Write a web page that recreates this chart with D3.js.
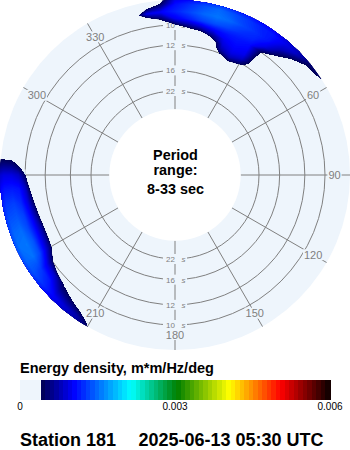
<!DOCTYPE html>
<html>
<head>
<meta charset="utf-8">
<script src="https://cdn.jsdelivr.net/npm/d3@7/dist/d3.min.js"></script>
<style>
  html, body { margin: 0; padding: 0; background: #ffffff; }
  svg { display: block; }
  text { font-family: "Liberation Sans", Arial, sans-serif; }
</style>
</head>
<body>
<svg id="chart" width="350" height="450"></svg>
<script>
// Directional wave energy spectrum for one buoy station.
// Grid values are energy density in units of 1e-5 m*m/Hz/deg,
// one row per wave period, one column per direction (deg, clockwise from north).
const ENERGY_UNIT = 1e-5;

const directions = [
    0,   5,  10,  15,  20,  25,  30,  35,  40,  45,  50,  55,
   60,  65,  70,  75,  80,  85,  90,  95, 100, 105, 110, 115,
  120, 125, 130, 135, 140, 145, 150, 155, 160, 165, 170, 175,
  180, 185, 190, 195, 200, 205, 210, 215, 220, 225, 230, 235,
  240, 245, 250, 255, 260, 265, 270, 275, 280, 285, 290, 295,
  300, 305, 310, 315, 320, 325, 330, 335, 340, 345, 350, 355
];

const periods = [8, 8.5, 9, 9.5, 10, 10.5, 11, 11.5, 12, 13, 14];

const energy = [
  // 8 s
  [ 80, 90,100,105,100, 95, 90, 85, 80, 75, 68, 60,
    42,  0,  0,  0,  0,  0,  0,  0,  0,  0,  0,  0,
     0,  0,  0,  0,  0,  0,  0,  0,  0,  0,  0,  0,
     0,  0,  0,  0,  0,  0, 55, 70, 80, 90,100,110,
   115,120,115,110,100, 90, 75, 42,  0,  0,  0,  0,
     0,  0,  0,  0,  0,  0,  0,  0,  0,  0,  0,  0 ],
  // 8.5 s
  [105,120,135,145,135,125,115,110, 95, 80, 41, 36,
    20,  0,  0,  0,  0,  0,  0,  0,  0,  0,  0,  0,
     0,  0,  0,  0,  0,  0,  0,  0,  0,  0,  0,  0,
     0,  0,  0,  0,  0,  0, 30, 70, 85,100,120,135,
   145,150,145,135,125,110, 90, 42,  0,  0,  0,  0,
     0,  0,  0,  0,  0,  0,  0,  0,  0,  0,  0, 45 ],
  // 9 s
  [115,130,145,152,145,130,120,108, 75, 38, 28, 18,
     8,  0,  0,  0,  0,  0,  0,  0,  0,  0,  0,  0,
     0,  0,  0,  0,  0,  0,  0,  0,  0,  0,  0,  0,
     0,  0,  0,  0,  0,  0, 10, 25, 50, 68,110,125,
   150,152,148,138,128,112, 90, 41,  0,  0,  0,  0,
     0,  0,  0,  0,  0,  0,  0,  0,  0,  0, 93,100 ],
  // 9.5 s
  [ 95,112,128,135,130,120,115, 92, 42, 26, 18,  8,
     0,  0,  0,  0,  0,  0,  0,  0,  0,  0,  0,  0,
     0,  0,  0,  0,  0,  0,  0,  0,  0,  0,  0,  0,
     0,  0,  0,  0,  0,  0,  0,  5, 15, 38, 80, 95,
   132,138,132,128,118,108, 80, 20,  0,  0,  0,  0,
     0,  0,  0,  0,  0,  0,  0,  0,  0,  0,  0, 48 ],
  // 10 s
  [ 35, 60, 80,100,108,110,105, 42, 25, 15,  8,  0,
     0,  0,  0,  0,  0,  0,  0,  0,  0,  0,  0,  0,
     0,  0,  0,  0,  0,  0,  0,  0,  0,  0,  0,  0,
     0,  0,  0,  0,  0,  0,  0,  0,  0,  0,  0, 50,
    95,105,105,100, 90, 80, 42,  5,  0,  0,  0,  0,
     0,  0,  0,  0,  0,  0,  0,  0,  0,  0,  0,  0 ],
  // 10.5 s
  [  0, 10, 20, 60, 98,105,100, 34, 15,  5,  0,  0,
     0,  0,  0,  0,  0,  0,  0,  0,  0,  0,  0,  0,
     0,  0,  0,  0,  0,  0,  0,  0,  0,  0,  0,  0,
     0,  0,  0,  0,  0,  0,  0,  0,  0,  0,  0,  0,
    55, 70, 70, 60, 45, 20, 20,  0,  0,  0,  0,  0,
     0,  0,  0,  0,  0,  0,  0,  0,  0,  0,  0,  0 ],
  // 11 s
  [  0,  0,  0, 10, 88,100, 95, 28,  5,  0,  0,  0,
     0,  0,  0,  0,  0,  0,  0,  0,  0,  0,  0,  0,
     0,  0,  0,  0,  0,  0,  0,  0,  0,  0,  0,  0,
     0,  0,  0,  0,  0,  0,  0,  0,  0,  0,  0,  0,
     5, 20, 20, 10,  0,  0,  0,  0,  0,  0,  0,  0,
     0,  0,  0,  0,  0,  0,  0,  0,  0,  0,  0,  0 ],
  // 11.5 s
  [  0,  0,  0,  0, 72, 92, 82, 24,  0,  0,  0,  0,
     0,  0,  0,  0,  0,  0,  0,  0,  0,  0,  0,  0,
     0,  0,  0,  0,  0,  0,  0,  0,  0,  0,  0,  0,
     0,  0,  0,  0,  0,  0,  0,  0,  0,  0,  0,  0,
     0,  0,  0,  0,  0,  0,  0,  0,  0,  0,  0,  0,
     0,  0,  0,  0,  0,  0,  0,  0,  0,  0,  0,  0 ],
  // 12 s
  [  0,  0,  0,  0, 42, 75, 55, 20,  0,  0,  0,  0,
     0,  0,  0,  0,  0,  0,  0,  0,  0,  0,  0,  0,
     0,  0,  0,  0,  0,  0,  0,  0,  0,  0,  0,  0,
     0,  0,  0,  0,  0,  0,  0,  0,  0,  0,  0,  0,
     0,  0,  0,  0,  0,  0,  0,  0,  0,  0,  0,  0,
     0,  0,  0,  0,  0,  0,  0,  0,  0,  0,  0,  0 ],
  // 13 s
  [  0,  0,  0,  0,  0, 10,  0,  0,  0,  0,  0,  0,
     0,  0,  0,  0,  0,  0,  0,  0,  0,  0,  0,  0,
     0,  0,  0,  0,  0,  0,  0,  0,  0,  0,  0,  0,
     0,  0,  0,  0,  0,  0,  0,  0,  0,  0,  0,  0,
     0,  0,  0,  0,  0,  0,  0,  0,  0,  0,  0,  0,
     0,  0,  0,  0,  0,  0,  0,  0,  0,  0,  0,  0 ],
  // 14 s
  [  0,  0,  0,  0,  0,  0,  0,  0,  0,  0,  0,  0,
     0,  0,  0,  0,  0,  0,  0,  0,  0,  0,  0,  0,
     0,  0,  0,  0,  0,  0,  0,  0,  0,  0,  0,  0,
     0,  0,  0,  0,  0,  0,  0,  0,  0,  0,  0,  0,
     0,  0,  0,  0,  0,  0,  0,  0,  0,  0,  0,  0,
     0,  0,  0,  0,  0,  0,  0,  0,  0,  0,  0,  0 ]
];

// Axis labelling
const periodRange = [8, 33];
const periodTicks = [10, 12, 16, 22];
const angleTicks = [0, 30, 60, 90, 120, 150, 180, 210, 240, 270, 300, 330];
const colorTicks = [0, 0.003, 0.006];
const colorDomain = [0.0004, 0.001, 0.0021, 0.003, 0.004, 0.005, 0.006];
const colorRange = ["#00005a", "#0000ff", "#00ffff", "#008000", "#ffff00", "#ff0000", "#000000"];
const stationName = "Station 181";
const timestamp = "2025-06-13 05:30 UTC";

// ---- layout ----
const svg = d3.select("#chart");
const CX = 175, CY = 175, R_DISC = 175;
const DISC_FILL = "#eef5fc";
const GRID = "#808080";
const LABEL = "#7f7f7f";

// radius is linear in frequency (1/period)
const rScale = d3.scaleLinear().domain([1 / 22, 1 / 10]).range([84, 150]);
const rInner = rScale(1 / periodRange[1]);

const toXY = (deg, r) => {
  const a = deg * Math.PI / 180;
  return [CX + r * Math.sin(a), CY - r * Math.cos(a)];
};

const color = d3.scaleLinear().domain(colorDomain).range(colorRange).interpolate(d3.interpolateRgb);

// disc background
svg.append("circle").attr("cx", CX).attr("cy", CY).attr("r", R_DISC).attr("fill", DISC_FILL);

// period rings
svg.append("g").selectAll("circle").data(periodTicks).join("circle")
  .attr("cx", CX).attr("cy", CY).attr("r", d => rScale(1 / d))
  .attr("fill", "none").attr("stroke", GRID).attr("stroke-width", 1);

// direction spokes
svg.append("g").selectAll("line").data(angleTicks).join("line")
  .attr("x1", d => toXY(d, rInner)[0]).attr("y1", d => toXY(d, rInner)[1])
  .attr("x2", d => toXY(d, R_DISC)[0]).attr("y2", d => toXY(d, R_DISC)[1])
  .attr("stroke", GRID).attr("stroke-width", 1);

// direction labels with a background patch
const angG = svg.append("g").selectAll("g").data(angleTicks).join("g")
  .attr("transform", d => { const p = toXY(d, 159.5); return `translate(${p[0]},${p[1]})`; });
angG.append("rect").attr("fill", DISC_FILL);
angG.append("text").text(d => d)
  .attr("text-anchor", "middle").attr("y", 4)
  .attr("font-size", 11).attr("fill", LABEL);
angG.each(function () {
  const t = d3.select(this).select("text").node().getBBox();
  d3.select(this).select("rect")
    .attr("x", t.x - 1).attr("y", -5.5).attr("width", t.width + 2).attr("height", 11);
});

// period labels along the north and south spokes
const perLab = [];
periodTicks.forEach(p => { perLab.push({ p, dir: 0 }); perLab.push({ p, dir: 180 }); });
const perG = svg.append("g").selectAll("g").data(perLab).join("g")
  .attr("transform", d => { const pt = toXY(d.dir, rScale(1 / d.p)); return `translate(${pt[0]},${pt[1]})`; });
perG.append("rect").attr("x", -12).attr("y", -5).attr("width", 24).attr("height", 10).attr("fill", DISC_FILL);
perG.append("text").text(d => d.p).attr("x", 0).attr("y", 3)
  .attr("text-anchor", "end").attr("font-size", 8).attr("fill", LABEL);
perG.append("text").text("s").attr("x", 6.5).attr("y", 3)
  .attr("font-size", 8).attr("font-style", "italic").attr("fill", LABEL);

// ---- energy contours ----
// the grid seam is put at a direction with no energy so no contour crosses it
const seamDir = 120;
const seamIdx = directions.indexOf(seamDir);
const dirStep = directions[1] - directions[0];
const nCols = directions.length + 1;
const nRows = periods.length;
const values = new Array(nCols * nRows);
for (let j = 0; j < nRows; j++) {
  for (let k = 0; k < nCols; k++) {
    values[j * nCols + k] = energy[j][(seamIdx + k) % directions.length] * ENERGY_UNIT;
  }
}

// colour bar bands, and finer levels for the filled map
const nBands = 64;
const bandStep = (colorDomain[colorDomain.length - 1] - colorDomain[0]) / nBands;
const bands = d3.range(nBands).map(i => colorDomain[0] + i * bandStep);
const levels = d3.range(nBands * 4).map(i => colorDomain[0] + i * bandStep / 4);

const colToDir = c => seamDir + dirStep * (c - 0.5);
const rowToRadius = d3.scaleLinear()
  .domain(periods.map((p, i) => i))
  .range(periods.map(p => rScale(1 / p)));

const project = pt => toXY(colToDir(pt[0]), rowToRadius(pt[1] - 0.5));

const contours = d3.contours().size([nCols, nRows]).thresholds(levels)(values);

const pathOf = mp => mp.coordinates.map(poly => poly.map(ring =>
  "M" + ring.map(pt => project(pt).map(v => v.toFixed(2)).join(",")).join("L") + "Z").join("")).join("");

svg.append("clipPath").attr("id", "discClip")
  .append("circle").attr("cx", CX).attr("cy", CY).attr("r", R_DISC);

svg.append("g").attr("clip-path", "url(#discClip)")
  .selectAll("path").data(contours.filter(c => c.coordinates.length)).join("path")
  .attr("d", pathOf)
  .attr("fill", d => color(d.value))
  .attr("shape-rendering", (d, i) => i === 0 ? "crispEdges" : null);

// inner blank circle with the period range
svg.append("circle").attr("cx", CX).attr("cy", CY).attr("r", rInner).attr("fill", "#ffffff");
const centre = svg.append("g").attr("font-weight", "bold").attr("font-size", 14.4)
  .attr("text-anchor", "middle").attr("fill", "#000");
centre.append("text").attr("x", CX + 0.5).attr("y", 160).text("Period");
centre.append("text").attr("x", CX + 0.5).attr("y", 174.5).text("range:");
centre.append("text").attr("x", CX + 0.5).attr("y", 194).text(`${periodRange[0]}-${periodRange[1]} sec`);

// ---- colour bar ----
const xBar = d3.scaleLinear().domain([0, 0.006]).range([20, 330]);
const BAR_Y = 380, BAR_H = 20;
svg.append("text").attr("x", 20).attr("y", 373).attr("font-weight", "bold")
  .attr("font-size", 14.5).text("Energy density, m*m/Hz/deg");
svg.append("rect").attr("x", xBar(0)).attr("y", BAR_Y)
  .attr("width", xBar(colorDomain[0]) - xBar(0)).attr("height", BAR_H).attr("fill", DISC_FILL);
svg.append("g").selectAll("rect").data(bands).join("rect")
  .attr("x", d => xBar(d)).attr("y", BAR_Y)
  .attr("width", d => xBar(d + bandStep) - xBar(d) + 0.5).attr("height", BAR_H)
  .attr("fill", d => color(d))
  .attr("shape-rendering", "crispEdges");
svg.append("g").selectAll("text").data(colorTicks).join("text")
  .attr("x", d => xBar(d)).attr("y", 410).attr("text-anchor", "middle")
  .attr("font-size", 10).text(d => d === 0 ? "0" : d3.format(".3f")(d));

// footer
svg.append("text").attr("x", 20).attr("y", 445.5).attr("font-weight", "bold")
  .attr("font-size", 18).text(stationName);
svg.append("text").attr("x", 138.5).attr("y", 445.5).attr("font-weight", "bold")
  .attr("font-size", 18).text(timestamp);
</script>
</body>
</html>
